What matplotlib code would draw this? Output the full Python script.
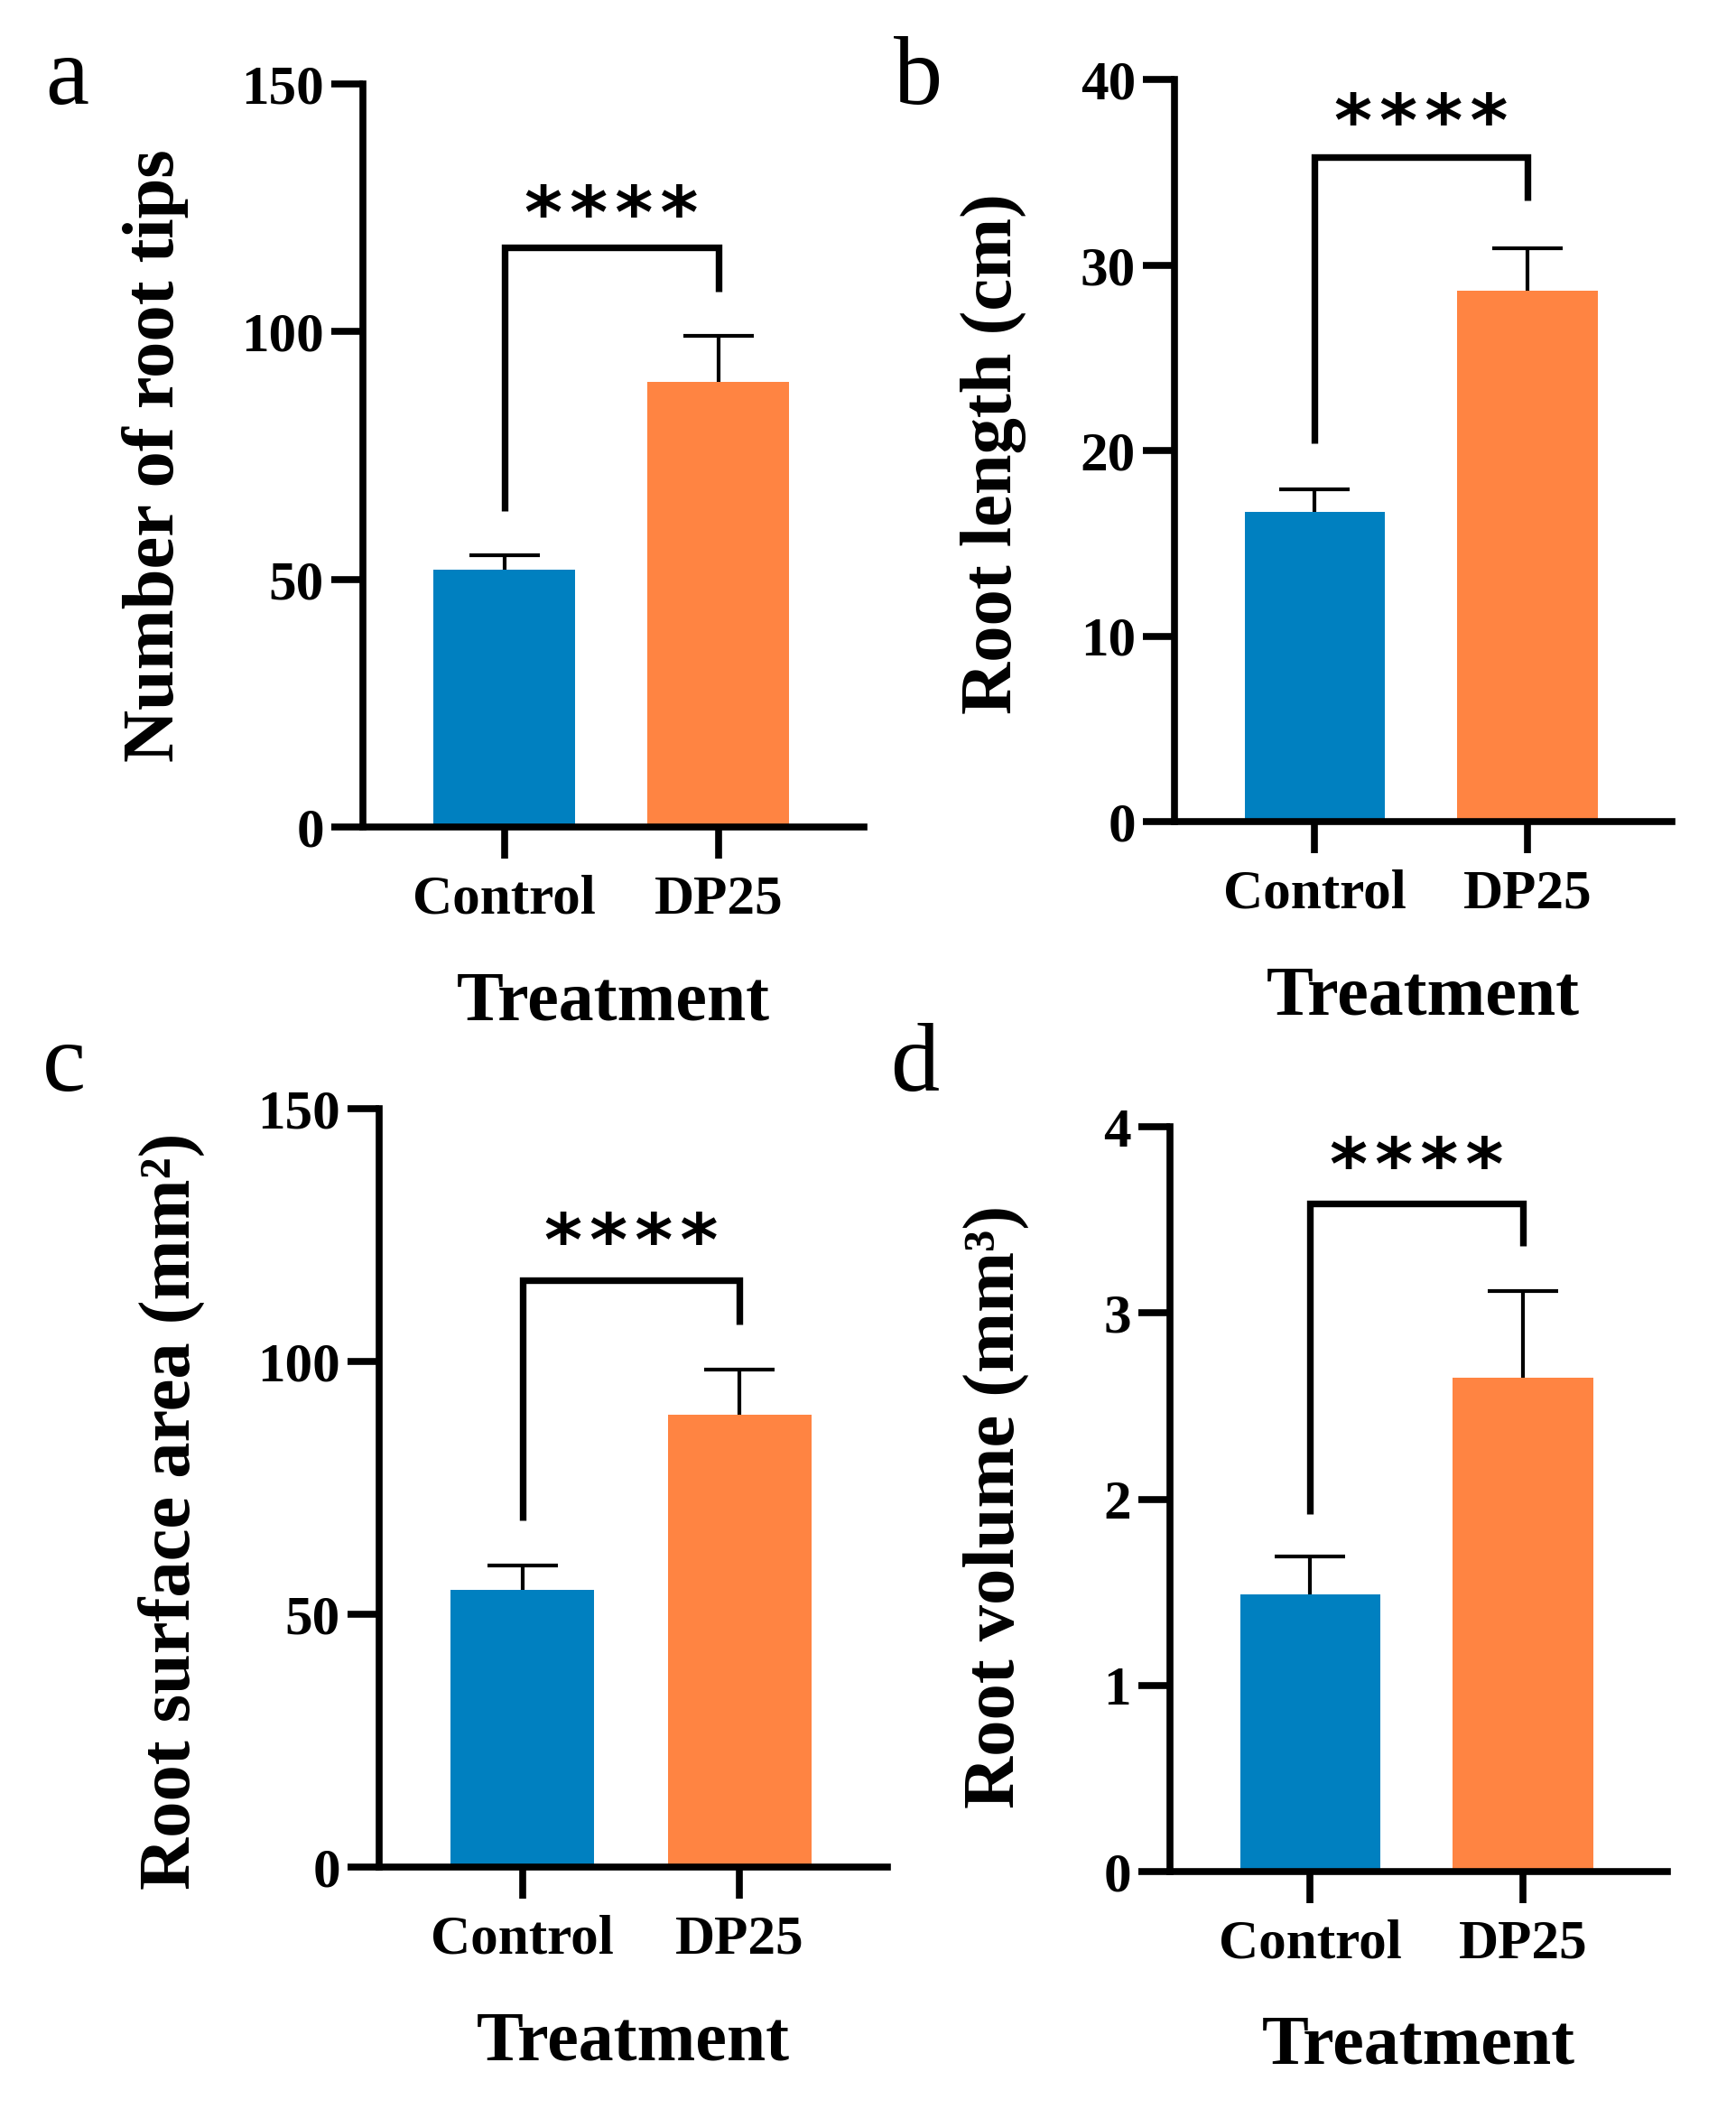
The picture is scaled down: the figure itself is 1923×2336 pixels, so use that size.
import matplotlib
matplotlib.use("Agg")
import matplotlib.pyplot as plt
import matplotlib.transforms as mtransforms
import numpy as np

plt.rcParams['font.family'] = ['Liberation Serif', 'DejaVu Serif']
plt.rcParams['font.weight'] = 'bold'

# ---------------- data ----------------
groups = ["Control", "DP25"]
colors = ["#0080C0", "#FF8442"]

tips_mean = [51.9, 89.9]
tips_sd = [2.9, 9.2]

length_mean = [16.7, 28.6]
length_sd = [1.2, 2.3]

area_mean = [54.9, 89.5]
area_sd = [4.7, 8.9]

volume_mean = [1.49, 2.65]
volume_sd = [0.20, 0.47]

ylabels = ["Number of root tips", "Root length (cm)",
           "Root surface area (mm\u00b2)", "Root volume (mm\u00b3)"]
panel_letters = ["a", "b", "c", "d"]
yticks_list = [[0, 50, 100, 150], [0, 10, 20, 30, 40],
               [0, 50, 100, 150], [0, 1, 2, 3, 4]]
# significance bracket: (left bottom, top, right bottom, star level)
brackets = [(63.8, 117.0, 108.0, 126.0),
            (20.4, 35.8, 33.5, 38.3),
            (68.6, 116.0, 107.3, 125.9),
            (1.92, 3.59, 3.36, 3.85)]
sig_text = "*\u200a*\u200a*\u200a*"

means = [tips_mean, length_mean, area_mean, volume_mean]
sds = [tips_sd, length_sd, area_sd, volume_sd]

# ---------------- layout (pixels) ----------------
W, H = 1924, 2336
fig = plt.figure(figsize=(W / 100, H / 100), dpi=100)

# left, right, top, bottom in pixel coordinates
boxes = [(402, 957, 93, 916),
         (1301, 1852, 88, 910),
         (420, 983, 1228, 2068),
         (1296, 1847, 1248, 2073)]
ylabel_pos = [(172, 505), (1100, 503), (190, 1674), (1103, 1669)]
letter_pos = [(50, 115), (990, 115), (47, 1208), (986, 1208)]

LW = 5.5
STAR_FS = 58
for i in range(4):
    l, r, t, b = boxes[i]
    ax = fig.add_axes([l / W, 1 - b / H, (r - l) / W, (b - t) / H])
    x = np.arange(len(groups))
    ax.bar(x, means[i], width=0.66, color=colors, zorder=2)
    eb = ax.errorbar(x, means[i], yerr=[np.zeros(len(x)), sds[i]], fmt='none',
                     ecolor='black', elinewidth=3, capsize=28, capthick=3, zorder=1)
    # hide lower caps (mean + SD only)
    for cl in eb[1]:
        yd = np.asarray(cl.get_ydata())
        if np.allclose(yd, means[i]):
            cl.set_visible(False)
    ax.set_xlim(-0.66, 1.68)
    yt = yticks_list[i]
    ax.set_ylim(yt[0], yt[-1])
    ax.set_yticks(yt)
    ax.set_xticks(x)
    ax.set_xticklabels(groups)
    for s in ['top', 'right']:
        ax.spines[s].set_visible(False)
    for s in ['left', 'bottom']:
        ax.spines[s].set_linewidth(LW)
        ax.spines[s].set_capstyle('projecting')
    ax.tick_params(axis='both', which='major', length=25, width=LW,
                   labelsize=44, direction='out')
    ax.tick_params(axis='x', pad=13)
    ax.tick_params(axis='y', pad=6)
    for lab in ax.get_xticklabels() + ax.get_yticklabels():
        lab.set_fontweight('bold')

    lb, top, rb, st = brackets[i]
    ax.plot([0, 0, 1, 1], [lb, top, top, rb], color='black', lw=5.3,
            solid_joinstyle='miter', solid_capstyle='butt', clip_on=False, zorder=3)
    star_tr = mtransforms.offset_copy(ax.transData, fig=fig, x=0, y=-0.2 * STAR_FS,
                                      units='points')
    ax.text(0.5, st, sig_text, ha='center', va='center', fontsize=STAR_FS,
            family=['DejaVu Sans'], fontweight='bold', clip_on=False,
            transform=star_tr)

    # axis titles
    yx, yy = ylabel_pos[i]
    fig.text(yx / W, 1 - yy / H, ylabels[i], rotation=90, ha='center', va='center',
             fontsize=58, fontweight='bold')
    fig.text(((l + r) / 2) / W, 1 - (b + 213) / H, "Treatment", ha='center',
             va='baseline', fontsize=56, fontweight='bold')
    lx, ly = letter_pos[i]
    fig.text(lx / W, 1 - ly / H, panel_letters[i], ha='left', va='baseline',
             fontsize=78, fontweight='normal')

fig.savefig("out.png", dpi=100, facecolor='white')
